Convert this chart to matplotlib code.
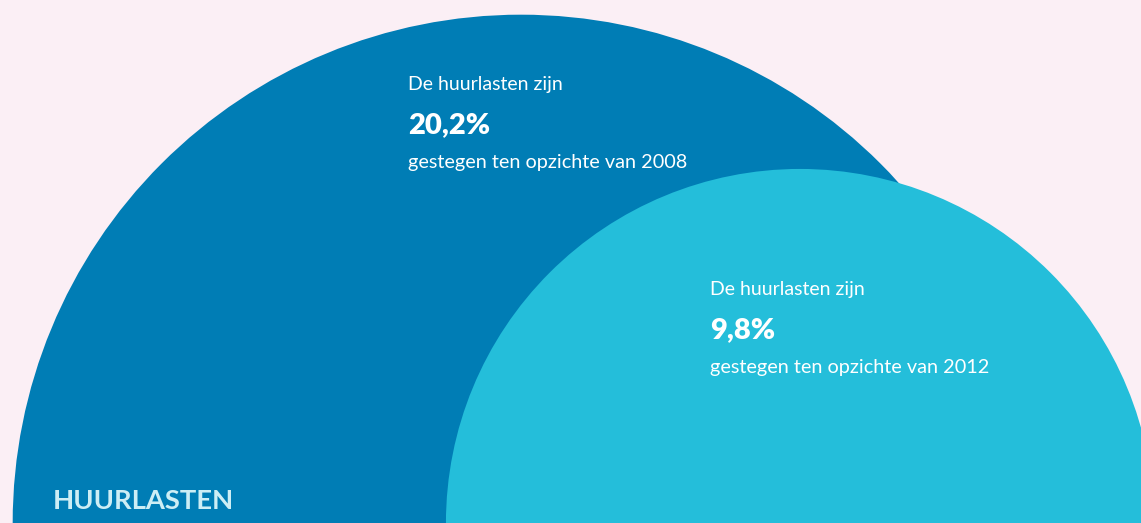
import matplotlib
matplotlib.use("Agg")
import matplotlib.pyplot as plt
from matplotlib.patches import Circle
import numpy as np

# Data
values = [20.2, 9.8]
base_years = ["2008", "2012"]
value_labels = ["20,2%", "9,8%"]
title = "HUURLASTEN"

W, H = 1141, 523
bg = "#FBEFF5"
colors = ["#007DB5", "#24BEDA"]
scale = 113.1  # px per sqrt(value)
centers_x = [521, 800]
text_x = [408, 710]
text_base = [90, 295]

fig = plt.figure(figsize=(W / 100, H / 100), dpi=100, facecolor=bg)
ax = fig.add_axes([0, 0, 1, 1])
ax.set_xlim(0, W)
ax.set_ylim(H, 0)
ax.set_aspect("auto")
ax.axis("off")
ax.set_facecolor(bg)

font = "Lato"
for v, cx, c in zip(values, centers_x, colors):
    r = scale * np.sqrt(v)
    ax.add_patch(Circle((cx, H), r, facecolor=c, edgecolor="none"))

for tx, tb, lab, yr in zip(text_x, text_base, value_labels, base_years):
    ax.text(tx, tb, "De huurlasten zijn", color="white", fontsize=14,
            family=font, va="baseline", ha="left")
    ax.text(tx, tb + 43, lab, color="white", fontsize=21, fontweight="heavy",
            family=font, va="baseline", ha="left")
    ax.text(tx, tb + 78, "gestegen ten opzichte van " + yr, color="white",
            fontsize=14.3, family=font, va="baseline", ha="left")

ax.text(53, 509, title, color="#CDEEF5", fontsize=19.7, fontweight="bold",
        family=font, va="baseline", ha="left")

fig.savefig("out.png", dpi=100, facecolor=bg)
